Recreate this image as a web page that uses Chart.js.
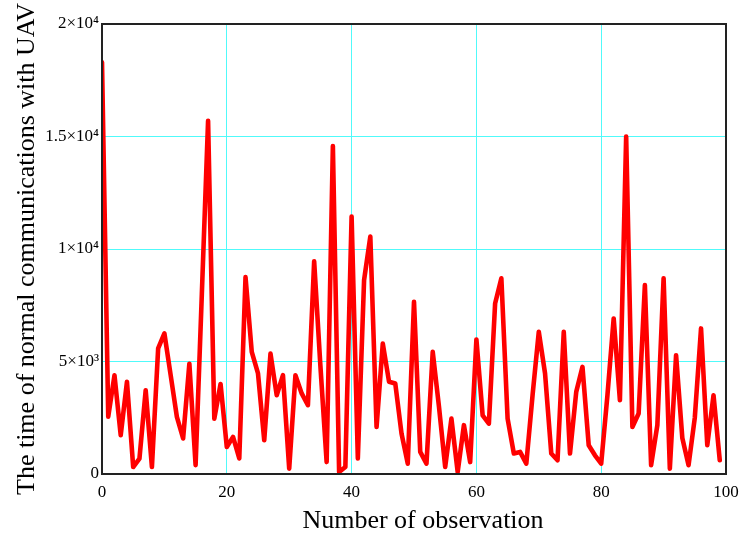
<!DOCTYPE html>
<html>
<head>
<meta charset="utf-8">
<script src="https://cdn.jsdelivr.net/npm/chart.js@4"></script>
<style>
  html, body { margin: 0; padding: 0; background: #fff; }
  #wrap { width: 744px; height: 533px; }
</style>
</head>
<body>
<div id="wrap"><canvas id="c" width="744" height="533"></canvas></div>
<script>
// Observation index 0..99
const observations = [];
for (let i = 0; i < 100; i++) observations.push(i);

// Time of normal communications with UAV
const commTime = [
  18300, 2550, 4390, 1720, 4100, 310, 680, 3720, 310, 5580,
  6250, 4400, 2540, 1580, 4900, 390, 8000, 15700, 2460, 4000,
  1200, 1650, 690, 8750, 5430, 4470, 1500, 5350, 3500, 4390,
  240, 4390, 3580, 3060, 9450, 4800, 530, 14580, 90, 310,
  11440, 690, 8620, 10550, 2090, 5800, 4100, 4020, 1800, 460,
  7650, 980, 460, 5430, 3000, 310, 2460, 90, 2170, 530,
  5980, 2610, 2240, 7580, 8700, 2460, 910, 980, 460, 3500,
  6320, 4470, 910, 610, 6320, 910, 3650, 4760, 1280, 830,
  460, 3500, 6910, 3280, 15000, 2090, 2690, 8400, 390, 2170,
  8700, 240, 5280, 1600, 390, 2500, 6470, 1280, 3500, 610
];

const xTicks = [0, 20, 40, 60, 80, 100];
const yTickLabels = {
  0: '0',
  5000: '5\u00D710\u00B3',
  10000: '1\u00D710\u2074',
  15000: '1.5\u00D710\u2074',
  20000: '2\u00D710\u2074'
};
const xTitle = 'Number of observation';
const yTitle = 'The time of normal communications with UAV';

const points = observations.map((x, i) => ({ x: x, y: commTime[i] }));

const serif = "'Liberation Serif', 'DejaVu Serif', serif";
const gridCyan = 'rgb(80,250,250)';

const frame = {
  id: 'frame',
  afterDatasetsDraw(chart) {
    const a = chart.chartArea, ctx = chart.ctx;
    ctx.save();
    ctx.strokeStyle = '#222';
    ctx.lineWidth = 2;
    ctx.strokeRect(a.left, a.top, a.right - a.left, a.bottom - a.top);
    ctx.restore();
  },
  afterDraw(chart) {
    const ctx = chart.ctx;
    ctx.save();
    ctx.fillStyle = '#000';
    ctx.font = '26px ' + serif;
    ctx.textAlign = 'center';
    ctx.textBaseline = 'alphabetic';
    ctx.fillText(xTitle, 423, 528);
    ctx.restore();
  }
};

new Chart(document.getElementById('c'), {
  type: 'line',
  data: {
    datasets: [{
      data: points,
      borderColor: '#ff0000',
      borderWidth: 4.6,
      borderJoinStyle: 'round',
      borderCapStyle: 'round',
      pointRadius: 0,
      tension: 0,
      fill: false
    }]
  },
  options: {
    responsive: false,
    animation: false,
    layout: { padding: { top: 24, right: 18, left: 0, bottom: 0 } },
    plugins: { legend: { display: false }, tooltip: { enabled: false } },
    scales: {
      x: {
        type: 'linear',
        min: 0,
        max: 100,
        afterBuildTicks(scale) { scale.ticks = xTicks.map(v => ({ value: v })); },
        afterFit(scale) { scale.height = 59; scale.paddingRight = 0; scale.paddingLeft = 0; },
        ticks: {
          color: '#000',
          font: { family: serif, size: 17 },
          padding: 8,
          maxRotation: 0
        },
        grid: {
          drawTicks: false,
          color: gridCyan,
          lineWidth: 1
        },
        border: { display: false }
      },
      y: {
        type: 'linear',
        min: 0,
        max: 20000,
        afterBuildTicks(scale) { scale.ticks = Object.keys(yTickLabels).map(v => ({ value: +v })); },
        afterFit(scale) { scale.width = 102; },
        ticks: {
          color: '#000',
          font: { family: serif, size: 17 },
          padding: 3,
          callback: v => yTickLabels[v]
        },
        grid: {
          drawTicks: false,
          color: gridCyan,
          lineWidth: 1
        },
        border: { display: false },
        title: {
          display: true,
          text: yTitle,
          color: '#000',
          font: { family: serif, size: 26 },
          padding: { top: 12, bottom: 0 }
        }
      }
    }
  },
  plugins: [frame]
});
</script>
</body>
</html>
